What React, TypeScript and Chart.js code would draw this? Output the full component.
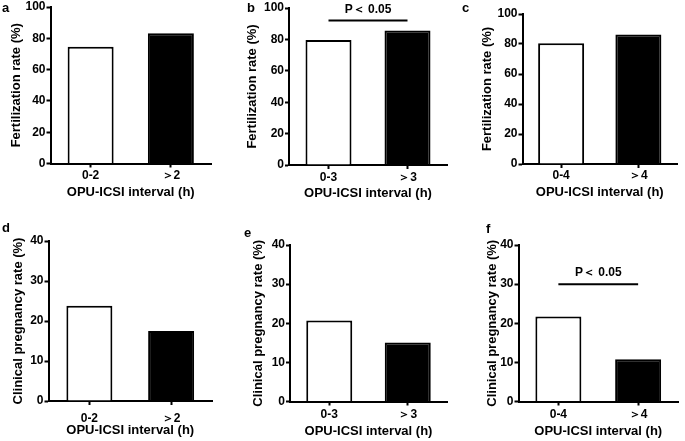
import React, { useEffect, useRef } from 'react';
import { Chart, registerables } from 'chart.js';
Chart.register(...registerables);

// ---------- data ----------
const catsA = ['0-2', '＞2'];
const catsB = ['0-3', '＞3'];
const catsC = ['0-4', '＞4'];
const fertA = [74.6, 83.2];
const fertB = [79.6, 85.7];
const fertC = [80.5, 86.3];
const pregD = [23.8, 17.5];
const pregE = [20.7, 15.1];
const pregF = [21.7, 10.8];
const fertTicks = [0, 20, 40, 60, 80, 100];
const pregTicks = [0, 10, 20, 30, 40];
const sigB = 92;
const sigF = 30;
const sigText = 'P＜ 0.05';
const xTitle = 'OPU-ICSI interval (h)';
const fertTitle = 'Fertilization rate (%)';
const pregTitle = 'Clinical pregnancy rate (%)';
const barColors = ['#ffffff', '#000000'];

const FONT = 'Arial, "Liberation Sans", sans-serif';

type Panel = {
  letter: string;
  letterX: number;
  letterY: number;
  cats: string[];
  values: number[];
  yTicks: number[];
  yTitle: string;
  sig: number | null;
  left: number;
  L: number;
  R: number;
  T: number;
  B: number;
  yTitleX: number;
  xTickY: number;
  xTitleY: number;
};

const panels: Panel[] = [
  { letter: 'a', letterX: 2, letterY: 0.5, cats: catsA, values: fertA, yTicks: fertTicks, yTitle: fertTitle, sig: null,
    left: 0, L: 50.5, R: 211, T: 7, B: 163.5, yTitleX: 16, xTickY: 175.5, xTitleY: 192.7 },
  { letter: 'b', letterX: 247, letterY: 1, cats: catsB, values: fertB, yTicks: fertTicks, yTitle: fertTitle, sig: sigB,
    left: 230, L: 289, R: 447, T: 7.5, B: 164.5, yTitleX: 252, xTickY: 176.7, xTitleY: 192.7 },
  { letter: 'c', letterX: 462, letterY: 1, cats: catsC, values: fertC, yTicks: fertTicks, yTitle: fertTitle, sig: null,
    left: 458, L: 522.5, R: 677, T: 14, B: 164, yTitleX: 487, xTickY: 175.7, xTitleY: 192.7 },
  { letter: 'd', letterX: 2, letterY: 221, cats: catsA, values: pregD, yTicks: pregTicks, yTitle: pregTitle, sig: null,
    left: 0, L: 48.5, R: 212, T: 241, B: 401, yTitleX: 18, xTickY: 418.3, xTitleY: 430.7 },
  { letter: 'e', letterX: 244, letterY: 226, cats: catsB, values: pregE, yTicks: pregTicks, yTitle: pregTitle, sig: null,
    left: 230, L: 290, R: 447, T: 244.5, B: 401, yTitleX: 258, xTickY: 414.3, xTitleY: 430.7 },
  { letter: 'f', letterX: 486, letterY: 222, cats: catsC, values: pregF, yTicks: pregTicks, yTitle: pregTitle, sig: sigF,
    left: 458, L: 518.5, R: 678, T: 244.5, B: 401, yTitleX: 492, xTickY: 414.3, xTitleY: 430.7 },
];

const sigPlugin = {
  id: 'sig',
  afterDatasetsDraw(chart: any, _args: any, opts: any) {
    if (opts == null || opts.value == null) return;
    const ctx = chart.ctx;
    const xs = chart.scales.x;
    const ys = chart.scales.y;
    const x0 = xs.getPixelForValue(0);
    const x1 = xs.getPixelForValue(1);
    const py = ys.getPixelForValue(opts.value);
    ctx.save();
    ctx.strokeStyle = '#000';
    ctx.lineWidth = 2;
    ctx.beginPath();
    ctx.moveTo(x0, py);
    ctx.lineTo(x1, py);
    ctx.stroke();
    ctx.fillStyle = '#000';
    ctx.font = `bold 12px ${FONT}`;
    ctx.textAlign = 'center';
    ctx.textBaseline = 'middle';
    ctx.fillText(opts.text, (x0 + x1) / 2, py - 11);
    ctx.restore();
  },
};

const PAD_TOP = 10;
const PAD_RIGHT = 4;
const X_H = 40;

function PanelChart({ p }: { p: Panel }) {
  const ref = useRef<HTMLCanvasElement | null>(null);
  const top = p.T - PAD_TOP;
  const width = Math.round(p.R + PAD_RIGHT - p.left);
  const height = Math.round(p.B + X_H - top);
  useEffect(() => {
    if (!ref.current) return;
    const yW = p.L - p.left;
    const xH = height - PAD_TOP - (p.B - p.T);
    const yTitlePad = p.yTitleX - p.left - 7.8;
    const xTitlePad = p.B + xH - p.xTitleY - 7.8;
    const xTickPad = p.xTickY - p.B - 4 - 7.2;
    const catW = (p.R - p.L) / 2;
    const chart = new Chart(ref.current, {
      type: 'bar',
      data: {
        labels: p.cats,
        datasets: [
          {
            data: p.values,
            backgroundColor: barColors,
            borderColor: '#000',
            borderWidth: 2,
            barPercentage: 46 / catW,
            categoryPercentage: 1,
          },
        ],
      },
      plugins: [sigPlugin],
      options: {
        animation: false,
        responsive: false,
        maintainAspectRatio: false,
        events: [],
        layout: { padding: { top: PAD_TOP, right: width - (p.R - p.left), bottom: 0, left: 0 } },
        plugins: {
          legend: { display: false },
          tooltip: { enabled: false },
          sig: { value: p.sig, text: sigText },
        } as any,
        scales: {
          x: {
            offset: true,
            grid: {
              display: true,
              offset: false,
              drawOnChartArea: false,
              drawTicks: true,
              tickLength: 4,
              tickWidth: 2,
              tickColor: '#000',
            },
            border: { display: true, color: '#000', width: 2 },
            ticks: {
              color: '#000',
              padding: xTickPad,
              font: { family: FONT, size: 12, weight: 'bold' },
              maxRotation: 0,
            },
            title: {
              display: true,
              text: xTitle,
              color: '#000',
              font: { family: FONT, size: 13, weight: 'bold' },
              padding: { top: 0, bottom: xTitlePad },
            },
            afterFit: (s: any) => {
              s.height = xH;
            },
          },
          y: {
            min: 0,
            max: p.yTicks[p.yTicks.length - 1],
            afterBuildTicks: (s: any) => {
              s.ticks = p.yTicks.map((v) => ({ value: v }));
            },
            grid: {
              display: true,
              drawOnChartArea: false,
              drawTicks: true,
              tickLength: 4,
              tickWidth: 2,
              tickColor: '#000',
            },
            border: { display: true, color: '#000', width: 2 },
            ticks: {
              color: '#000',
              padding: 1,
              font: { family: FONT, size: 12, weight: 'bold' },
            },
            title: {
              display: true,
              text: p.yTitle,
              color: '#000',
              font: { family: FONT, size: 13, weight: 'bold' },
              padding: { top: yTitlePad, bottom: 0 },
            },
            afterFit: (s: any) => {
              s.width = yW;
            },
          },
        },
      } as any,
    });
    return () => chart.destroy();
  }, []);
  return (
    <>
      <canvas
        ref={ref}
        width={width}
        height={height}
        style={{ position: 'absolute', left: p.left, top, width, height }}
      />
      <div
        style={{
          position: 'absolute',
          left: p.letterX,
          top: p.letterY,
          font: `bold 13px ${FONT}`,
          lineHeight: '13px',
          color: '#000',
        }}
      >
        {p.letter}
      </div>
    </>
  );
}

export default function App() {
  return (
    <div
      style={{
        position: 'absolute',
        left: 0,
        top: 0,
        width: 685,
        height: 441,
        background: '#fff',
        overflow: 'hidden',
      }}
    >
      {panels.map((p) => (
        <PanelChart key={p.letter} p={p} />
      ))}
    </div>
  );
}
